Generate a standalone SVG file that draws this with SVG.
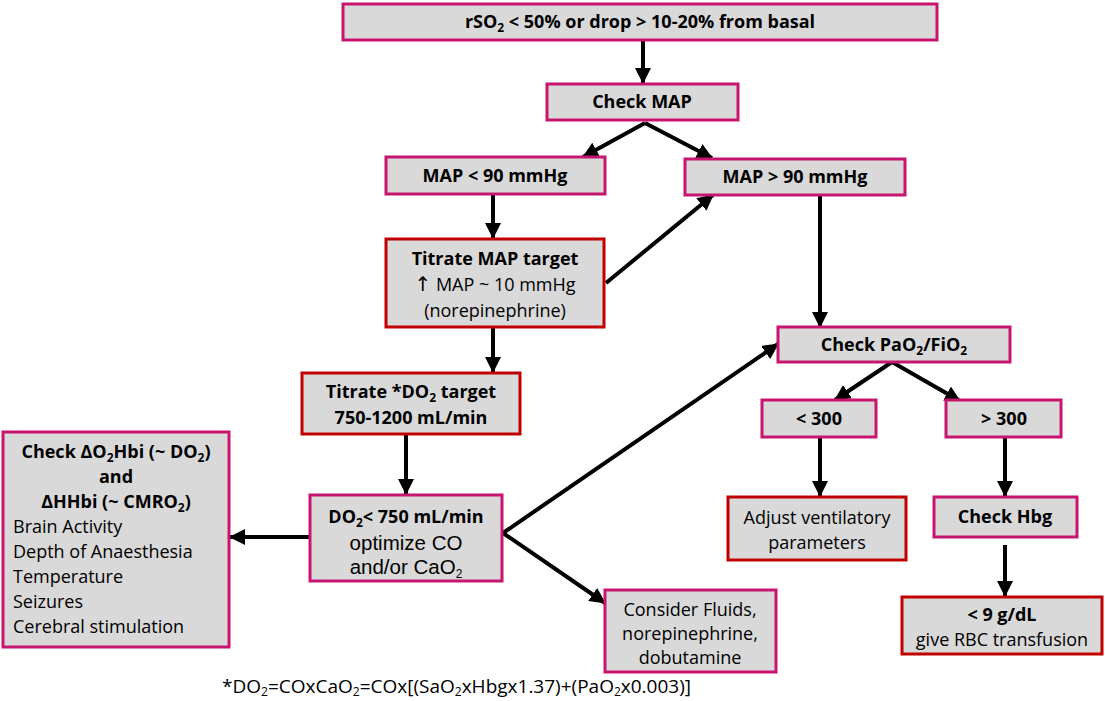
<svg xmlns="http://www.w3.org/2000/svg" width="1105" height="701" viewBox="0 0 1105 701">
<style>
.m{fill:#d9d9d9;stroke:#c8156f;stroke-width:3}
.r{fill:#d9d9d9;stroke:#c00000;stroke-width:3}
text{font-family:"Open Sans","Liberation Sans",sans-serif;font-size:18px;fill:#000}
.b{font-weight:bold}
.c{text-anchor:middle}
.a{font-family:"Liberation Sans",Arial,sans-serif;font-size:20.5px}
.s{font-size:12px}
.f{font-size:19px}
.up{font-family:"DejaVu Sans",sans-serif;font-size:20px;fill:#000}
.ln{stroke:#000;stroke-width:4;fill:none;marker-end:url(#ah)}
</style>
<defs>
<marker id="ah" markerUnits="userSpaceOnUse" markerWidth="16" markerHeight="16" refX="15" refY="8" orient="auto" viewBox="0 0 16 16">
<path d="M0,0 L16,8 L0,16 z" fill="#000"/>
</marker>
</defs>
<rect width="1105" height="701" fill="#fff"/>
<g id="connectors">
<line class="ln" x1="643" y1="40" x2="643" y2="83"/>
<line class="ln" x1="645" y1="123" x2="583" y2="157"/>
<line class="ln" x1="645" y1="123" x2="712" y2="158"/>
<line class="ln" x1="493" y1="195" x2="493" y2="238"/>
<line class="ln" x1="606" y1="283" x2="713" y2="195"/>
<line class="ln" x1="820" y1="196" x2="820" y2="327"/>
<line class="ln" x1="493" y1="328" x2="493" y2="372"/>
<line class="ln" x1="406" y1="435" x2="406" y2="494"/>
<line class="ln" x1="310" y1="537" x2="230" y2="537"/>
<line class="ln" x1="503" y1="533" x2="778" y2="344"/>
<line class="ln" x1="503" y1="533" x2="605" y2="603"/>
<line class="ln" x1="892" y1="362" x2="835" y2="400"/>
<line class="ln" x1="892" y1="362" x2="960" y2="401"/>
<line class="ln" x1="820" y1="437" x2="820" y2="496"/>
<line class="ln" x1="1005" y1="437" x2="1005" y2="496"/>
<line class="ln" x1="1005" y1="545" x2="1005" y2="596"/>
</g>
<g id="n_rso2">
<rect class="m" x="343" y="4" width="594" height="36"/>
<text class="b c" x="640" y="28">rSO<tspan class="s" dy="4">2</tspan><tspan dy="-4"> &lt; 50% or drop &gt; 10-20% from basal</tspan></text>
</g>
<g id="n_checkmap">
<rect class="m" x="547" y="84" width="191" height="36"/>
<text class="b c" x="642" y="108">Check MAP</text>
</g>
<g id="n_maplt">
<rect class="m" x="386" y="157" width="219" height="37"/>
<text class="b c" x="495" y="182">MAP &lt; 90 mmHg</text>
</g>
<g id="n_mapgt">
<rect class="m" x="685" y="159" width="220" height="36"/>
<text class="b c" x="795" y="183">MAP &gt; 90 mmHg</text>
</g>
<g id="n_titratemap">
<rect class="r" x="386" y="239" width="218" height="88"/>
<text class="b c" x="495" y="265">Titrate MAP target</text>
<text class="c" x="495" y="291"><tspan class="up">↑</tspan> MAP ~ 10 mmHg</text>
<text class="c" x="495" y="317">(norepinephrine)</text>
</g>
<g id="n_titratedo2">
<rect class="r" x="302" y="373" width="218" height="61"/>
<text class="b c" x="411" y="398">Titrate *DO<tspan class="s" dy="4">2</tspan><tspan dy="-4"> target</tspan></text>
<text class="b c" x="411" y="424">750-1200 mL/min</text>
</g>
<g id="n_do2">
<rect class="m" x="310" y="495" width="192" height="86"/>
<text class="b c" x="406" y="523">DO<tspan class="s" dy="4">2</tspan><tspan dy="-4">&lt; 750 mL/min</tspan></text>
<text class="a c" x="406" y="550">optimize CO</text>
<text class="a c" x="406" y="574">and/or CaO<tspan class="s" dy="4">2</tspan></text>
</g>
<g id="n_check_hbi">
<rect class="m" x="3" y="432" width="226" height="215"/>
<text class="b c" x="116" y="458">Check ΔO<tspan class="s" dy="4">2</tspan><tspan dy="-4">Hbi (~ DO</tspan><tspan class="s" dy="4">2</tspan><tspan dy="-4">)</tspan></text>
<text class="b c" x="116" y="483">and</text>
<text class="b c" x="116" y="508">ΔHHbi (~ CMRO<tspan class="s" dy="4">2</tspan><tspan dy="-4">)</tspan></text>
<text x="13" y="533">Brain Activity</text>
<text x="13" y="558">Depth of Anaesthesia</text>
<text x="13" y="583">Temperature</text>
<text x="13" y="608">Seizures</text>
<text x="13" y="633">Cerebral stimulation</text>
</g>
<g id="n_fluids">
<rect class="m" x="605" y="590" width="171" height="82"/>
<text class="c" x="690" y="616">Consider Fluids,</text>
<text class="c" x="690" y="640">norepinephrine,</text>
<text class="c" x="690" y="664">dobutamine</text>
</g>
<g id="n_pao2">
<rect class="m" x="778" y="327" width="232" height="35"/>
<text class="b c" x="894" y="351">Check PaO<tspan class="s" dy="4">2</tspan><tspan dy="-4">/FiO</tspan><tspan class="s" dy="4">2</tspan></text>
</g>
<g id="n_lt300">
<rect class="m" x="762" y="400" width="114" height="37"/>
<text class="b c" x="819" y="425">&lt; 300</text>
</g>
<g id="n_gt300">
<rect class="m" x="946" y="400" width="115" height="37"/>
<text class="b c" x="1004" y="425">&gt; 300</text>
</g>
<g id="n_vent">
<rect class="r" x="728" y="497" width="178" height="63"/>
<text class="c" x="817" y="524">Adjust ventilatory</text>
<text class="c" x="817" y="549">parameters</text>
</g>
<g id="n_hbg">
<rect class="m" x="934" y="497" width="143" height="40"/>
<text class="b c" x="1005" y="523">Check Hbg</text>
</g>
<g id="n_rbc">
<rect class="r" x="902" y="597" width="200" height="57"/>
<text class="b c" x="1002" y="621">&lt; 9 g/dL</text>
<text class="c" x="1002" y="646">give RBC transfusion</text>
</g>
<g id="footnote">
<text class="f" x="222" y="693">*DO<tspan class="s" dy="3">2</tspan><tspan dy="-3">=COxCaO</tspan><tspan class="s" dy="3">2</tspan><tspan dy="-3">=COx[(SaO</tspan><tspan class="s" dy="3">2</tspan><tspan dy="-3">xHbgx1.37)+(PaO</tspan><tspan class="s" dy="3">2</tspan><tspan dy="-3">x0.003)]</tspan></text>
</g>
</svg>
